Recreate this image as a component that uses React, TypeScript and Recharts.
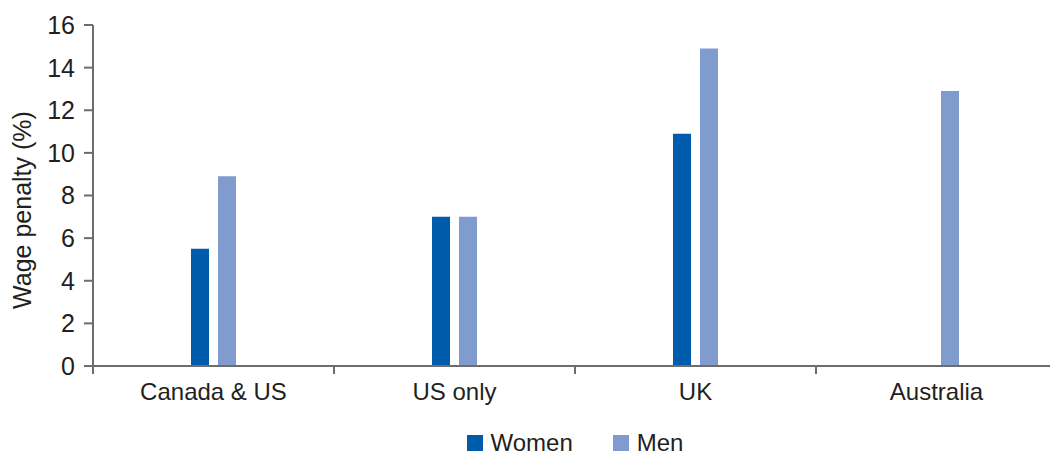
import { BarChart, Bar, XAxis, YAxis, Legend } from "recharts";

const regions = ["Canada & US", "US only", "UK", "Australia"];
const women = [5.5, 7.0, 10.9, null];
const men = [8.9, 7.0, 14.9, 12.9];
const yTicks = [0, 2, 4, 6, 8, 10, 12, 14, 16];

const WOMEN_COLOR = "#005BAC";
const MEN_COLOR = "#809BCD";
const AXIS_COLOR = "#6d6d6d";
const TEXT_COLOR = "#231F20";
const FONT = "'Liberation Sans', Arial, sans-serif";

const data = regions.map((region, i) => ({
  region,
  Women: women[i],
  Men: men[i],
}));

// category label plus a tick mark on the left edge of each band
function RegionTick(props: any) {
  const { x, y, payload } = props;
  const edge = x - (payload?.offset ?? 0);
  return (
    <g>
      <line x1={edge} y1={y} x2={edge} y2={y + 8} stroke={AXIS_COLOR} strokeWidth={2} />
      <text x={x} y={y + 34} textAnchor="middle" fill={TEXT_COLOR} fontSize={24} fontFamily={FONT}>
        {payload.value}
      </text>
    </g>
  );
}

function LegendContent() {
  const items = [
    { name: "Women", color: WOMEN_COLOR },
    { name: "Men", color: MEN_COLOR },
  ];
  return (
    <div
      style={{
        display: "flex",
        justifyContent: "center",
        alignItems: "center",
        height: 24,
        gap: 40,
        fontFamily: FONT,
        fontSize: 24,
        color: TEXT_COLOR,
      }}
    >
      {items.map((it) => (
        <div key={it.name} style={{ display: "flex", alignItems: "center", gap: 8 }}>
          <span style={{ width: 16, height: 16, background: it.color, display: "inline-block" }} />
          <span>{it.name}</span>
        </div>
      ))}
    </div>
  );
}

export default function App() {
  return (
    <div
      style={{
        position: "absolute",
        left: 0,
        top: 0,
        width: 1050,
        height: 455,
        overflow: "hidden",
        background: "#fff",
      }}
    >
      <BarChart
        width={1060}
        height={455}
        data={data}
        margin={{ top: 25, right: 3, left: 0, bottom: 0 }}
        barSize={18}
        barGap={9}
      >
        <XAxis
          dataKey="region"
          height={65}
          axisLine={{ stroke: AXIS_COLOR, strokeWidth: 2 }}
          tickLine={false}
          tickSize={0}
          tickMargin={0}
          interval={0}
          tick={<RegionTick />}
        />
        <YAxis
          width={93}
          domain={[0, 16]}
          ticks={yTicks}
          interval={0}
          axisLine={{ stroke: AXIS_COLOR, strokeWidth: 2 }}
          tickLine={{ stroke: AXIS_COLOR, strokeWidth: 2 }}
          tickSize={9}
          tickMargin={9}
          tick={{ fill: TEXT_COLOR, fontSize: 25, fontFamily: FONT }}
          label={({ viewBox }: any) => {
            const cx = viewBox.x + 22;
            const cy = 210;
            return (
              <text
                x={cx}
                y={cy}
                transform={`rotate(-90, ${cx}, ${cy})`}
                textAnchor="middle"
                dominantBaseline="central"
                fill={TEXT_COLOR}
                fontSize={25}
                fontFamily={FONT}
              >
                Wage penalty (%)
              </text>
            );
          }}
        />
        <Legend
          verticalAlign="bottom"
          height={24}
          wrapperStyle={{ left: 93, width: 964 }}
          content={<LegendContent />}
        />
        <Bar dataKey="Women" fill={WOMEN_COLOR} isAnimationActive={false} />
        <Bar dataKey="Men" fill={MEN_COLOR} isAnimationActive={false} />
      </BarChart>
    </div>
  );
}
